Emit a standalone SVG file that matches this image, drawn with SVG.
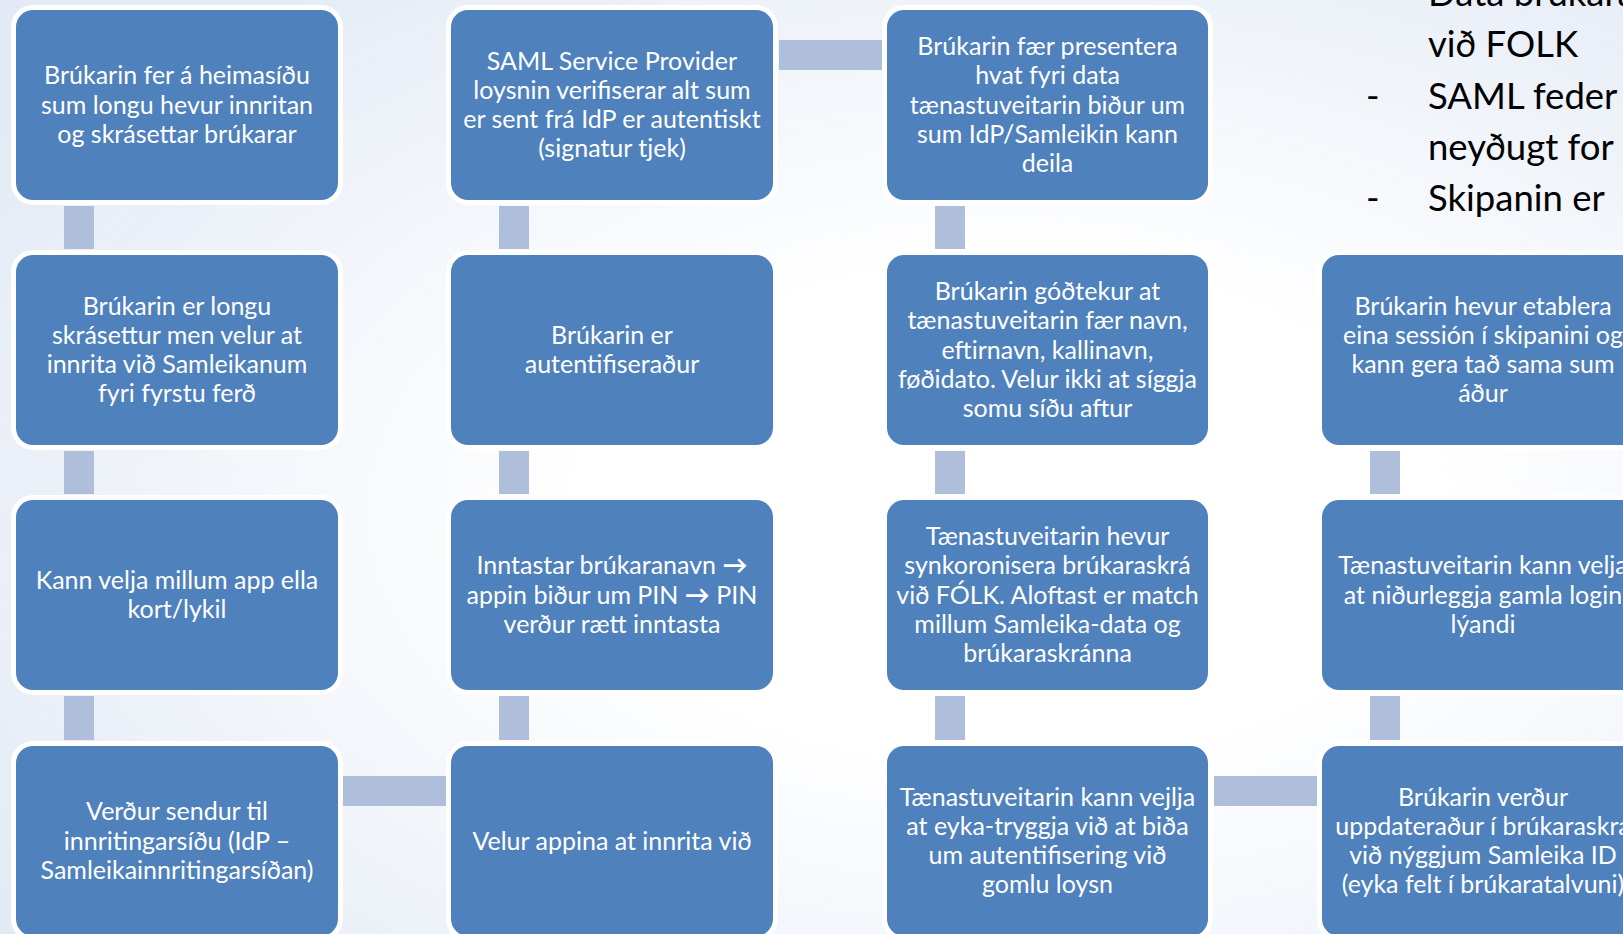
<svg xmlns="http://www.w3.org/2000/svg" width="1623" height="934" viewBox="0 0 1623 934">
<defs>
<radialGradient id="bg" cx="0.62" cy="0.55" r="0.75" gradientUnits="objectBoundingBox">
<stop offset="0.35" stop-color="#ffffff"/>
<stop offset="1" stop-color="#e3eaf5"/>
</radialGradient>
<style>
.box{fill:#4f81bd;stroke:#ffffff;stroke-width:10;paint-order:stroke;}
.con{fill:#afbfdb;}
.t{font-family:Lato,"Noto Sans","DejaVu Sans",sans-serif;font-size:25px;fill:#ffffff;text-anchor:middle;}
.arr{font-weight:bold;}
.side{font-family:Lato,"Noto Sans","DejaVu Sans",sans-serif;font-size:36.5px;fill:#000000;}
</style>
</defs>
<rect x="0" y="0" width="1623" height="934" fill="url(#bg)"/>

<g id="connectors">
<rect class="con" x="64" y="206" width="30" height="43"/>
<rect class="con" x="64" y="451" width="30" height="43"/>
<rect class="con" x="64" y="696" width="30" height="44"/>
<rect class="con" x="499" y="206" width="30" height="43"/>
<rect class="con" x="499" y="451" width="30" height="43"/>
<rect class="con" x="499" y="696" width="30" height="44"/>
<rect class="con" x="935" y="206" width="30" height="43"/>
<rect class="con" x="935" y="451" width="30" height="43"/>
<rect class="con" x="935" y="696" width="30" height="44"/>
<rect class="con" x="1370" y="451" width="30" height="43"/>
<rect class="con" x="1370" y="696" width="30" height="44"/>
<rect class="con" x="343" y="776" width="103" height="30"/>
<rect class="con" x="779" y="40" width="103" height="30"/>
<rect class="con" x="1214" y="776" width="103" height="30"/>
</g>

<g id="n1">
<rect class="box" x="16" y="10" width="322" height="190" rx="17"/>
<text class="t"><tspan x="177" y="84.3">Brúkarin fer á heimasíðu</tspan><tspan x="177" y="113.5">sum longu hevur innritan</tspan><tspan x="177" y="142.7">og skrásettar brúkarar</tspan></text>
</g>
<g id="n2">
<rect class="box" x="16" y="255" width="322" height="190" rx="17"/>
<text class="t"><tspan x="177" y="314.7">Brúkarin er longu</tspan><tspan x="177" y="343.9">skrásettur men velur at</tspan><tspan x="177" y="373.1">innrita við Samleikanum</tspan><tspan x="177" y="402.3">fyri fyrstu ferð</tspan></text>
</g>
<g id="n3">
<rect class="box" x="16" y="500" width="322" height="190" rx="17"/>
<text class="t"><tspan x="177" y="588.9">Kann velja millum app ella</tspan><tspan x="177" y="618.1">kort/lykil</tspan></text>
</g>
<g id="n4">
<rect class="box" x="16" y="746" width="322" height="190" rx="17"/>
<text class="t"><tspan x="177" y="820.3">Verður sendur til</tspan><tspan x="177" y="849.5">innritingarsíðu (IdP –</tspan><tspan x="177" y="878.7">Samleikainnritingarsíðan)</tspan></text>
</g>

<g id="n5">
<rect class="box" x="451" y="746" width="322" height="190" rx="17"/>
<text class="t"><tspan x="612" y="849.5">Velur appina at innrita við</tspan></text>
</g>
<g id="n6">
<rect class="box" x="451" y="500" width="322" height="190" rx="17"/>
<text class="t"><tspan x="612" y="574.3">Inntastar brúkaranavn <tspan class="arr">→</tspan></tspan><tspan x="612" y="603.5">appin biður um PIN <tspan class="arr">→</tspan> PIN</tspan><tspan x="612" y="632.7">verður rætt inntasta</tspan></text>
</g>
<g id="n7">
<rect class="box" x="451" y="255" width="322" height="190" rx="17"/>
<text class="t"><tspan x="612" y="343.9">Brúkarin er</tspan><tspan x="612" y="373.1">autentifiseraður</tspan></text>
</g>
<g id="n8">
<rect class="box" x="451" y="10" width="322" height="190" rx="17"/>
<text class="t"><tspan x="612" y="69.7">SAML Service Provider</tspan><tspan x="612" y="98.9">loysnin verifiserar alt sum</tspan><tspan x="612" y="128.1">er sent frá IdP er autentiskt</tspan><tspan x="612" y="157.3">(signatur tjek)</tspan></text>
</g>

<g id="n9">
<rect class="box" x="887" y="10" width="321" height="190" rx="17"/>
<text class="t"><tspan x="1047.5" y="55.1">Brúkarin fær presentera</tspan><tspan x="1047.5" y="84.3">hvat fyri data</tspan><tspan x="1047.5" y="113.5">tænastuveitarin biður um</tspan><tspan x="1047.5" y="142.7">sum IdP/Samleikin kann</tspan><tspan x="1047.5" y="171.9">deila</tspan></text>
</g>
<g id="n10">
<rect class="box" x="887" y="255" width="321" height="190" rx="17"/>
<text class="t"><tspan x="1047.5" y="300.1">Brúkarin góðtekur at</tspan><tspan x="1047.5" y="329.3">tænastuveitarin fær navn,</tspan><tspan x="1047.5" y="358.5">eftirnavn, kallinavn,</tspan><tspan x="1047.5" y="387.7">føðidato. Velur ikki at síggja</tspan><tspan x="1047.5" y="416.9">somu síðu aftur</tspan></text>
</g>
<g id="n11">
<rect class="box" x="887" y="500" width="321" height="190" rx="17"/>
<text class="t"><tspan x="1047.5" y="545.1">Tænastuveitarin hevur</tspan><tspan x="1047.5" y="574.3">synkoronisera brúkaraskrá</tspan><tspan x="1047.5" y="603.5">við FÓLK. Aloftast er match</tspan><tspan x="1047.5" y="632.7">millum Samleika-data og</tspan><tspan x="1047.5" y="661.9">brúkaraskránna</tspan></text>
</g>
<g id="n12">
<rect class="box" x="887" y="746" width="321" height="190" rx="17"/>
<text class="t"><tspan x="1047.5" y="805.7">Tænastuveitarin kann vejlja</tspan><tspan x="1047.5" y="834.9">at eyka-tryggja við at biða</tspan><tspan x="1047.5" y="864.1">um autentifisering við</tspan><tspan x="1047.5" y="893.3">gomlu loysn</tspan></text>
</g>

<g id="n13">
<rect class="box" x="1322" y="746" width="322" height="190" rx="17"/>
<text class="t"><tspan x="1483" y="805.7">Brúkarin verður</tspan><tspan x="1483" y="834.9">uppdateraður í brúkaraskrá</tspan><tspan x="1483" y="864.1">við nýggjum Samleika ID</tspan><tspan x="1483" y="893.3">(eyka felt í brúkaratalvuni)</tspan></text>
</g>
<g id="n14">
<rect class="box" x="1322" y="500" width="322" height="190" rx="17"/>
<text class="t"><tspan x="1483" y="574.3">Tænastuveitarin kann velja</tspan><tspan x="1483" y="603.5">at niðurleggja gamla login</tspan><tspan x="1483" y="632.7">lýandi</tspan></text>
</g>
<g id="n15">
<rect class="box" x="1322" y="255" width="322" height="190" rx="17"/>
<text class="t"><tspan x="1483" y="314.7">Brúkarin hevur etablera</tspan><tspan x="1483" y="343.9">eina sessión í skipanini og</tspan><tspan x="1483" y="373.1">kann gera tað sama sum</tspan><tspan x="1483" y="402.3">áður</tspan></text>
</g>

<g id="notes">
<text class="side"><tspan x="1428" y="5.5">Data brúkara</tspan><tspan x="1428" y="57">við FOLK</tspan><tspan x="1428" y="108.5">SAML feder</tspan><tspan x="1428" y="160">neyðugt for</tspan><tspan x="1428" y="210.5">Skipanin er</tspan></text>
<text class="side"><tspan x="1366" y="108.5">-</tspan><tspan x="1366" y="210.5">-</tspan></text>
</g>
</svg>
